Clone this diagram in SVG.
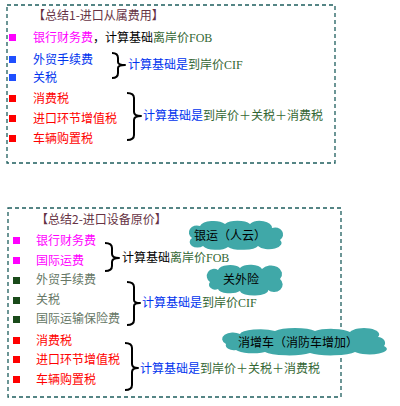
<svg xmlns="http://www.w3.org/2000/svg" width="400" height="406" viewBox="0 0 400 406">
<style>
text{font-family:"Noto Sans CJK SC","Noto Sans",sans-serif;font-size:12px}
.title{fill:#663344}
.mag{fill:#FF00FF}
.blue{fill:#0033EE}
.red{fill:#FF0000}
.blk{fill:#000000}
.grn{fill:#336633;font-family:"Liberation Serif","Noto Sans CJK SC",serif}
.gry{fill:#667766}
.frame{fill:none;stroke:#1E5E5E;stroke-width:1.3;stroke-dasharray:4 3}
.brace{fill:none;stroke:#000;stroke-width:2;stroke-linejoin:round}
.cloud{fill:#40A8A8}
.sq-m{fill:#FF00FF}.sq-b{fill:#1F4FFF}.sq-r{fill:#FF0000}.sq-g{fill:#1A4A1A}
</style>

<g id="box1">
<rect class="frame" x="7" y="5" width="328" height="158"/>
<text class="title" x="33" y="20">【总结1-进口从属费用】</text>
</g>
<g id="b1-row1">
<rect class="sq-m" x="9" y="34" width="7" height="7"/>
<text x="33" y="42"><tspan class="mag">银行财务费</tspan><tspan class="blk">，计算基础</tspan><tspan class="grn">离岸价FOB</tspan></text>
</g>
<g id="b1-row2">
<rect class="sq-b" x="9" y="56" width="7" height="7"/>
<text class="blue" x="33" y="64">外贸手续费</text>
</g>
<g id="b1-row3">
<rect class="sq-b" x="9" y="74" width="7" height="7"/>
<text class="blue" x="33" y="82">关税</text>
</g>
<g id="b1-row4">
<rect class="sq-r" x="9" y="95" width="7" height="7"/>
<text class="red" x="33" y="103">消费税</text>
</g>
<g id="b1-row5">
<rect class="sq-r" x="9" y="115" width="7" height="7"/>
<text class="red" x="33" y="123">进口环节增值税</text>
</g>
<g id="b1-row6">
<rect class="sq-r" x="9" y="135" width="7" height="7"/>
<text class="red" x="33" y="143">车辆购置税</text>
</g>
<g id="b1-label1">
<text x="128" y="69"><tspan class="blue">计算基础是</tspan><tspan class="grn">到岸价CIF</tspan></text>
</g>
<g id="b1-label2">
<text x="143" y="120"><tspan class="blue">计算基础是</tspan><tspan class="grn">到岸价＋关税＋消费税</tspan></text>
</g>

<g id="box2">
<rect class="frame" x="8" y="208" width="333" height="189"/>
<text class="title" x="36" y="224">【总结2-进口设备原价】</text>
</g>
<g id="b2-row1">
<rect class="sq-m" x="13" y="237" width="7" height="7"/>
<text class="mag" x="36" y="245">银行财务费</text>
</g>
<g id="b2-row2">
<rect class="sq-m" x="13" y="257" width="7" height="7"/>
<text class="mag" x="36" y="265">国际运费</text>
</g>
<g id="b2-row3">
<rect class="sq-g" x="13" y="277" width="7" height="7"/>
<text class="gry" x="36" y="284">外贸手续费</text>
</g>
<g id="b2-row4">
<rect class="sq-g" x="13" y="297" width="7" height="7"/>
<text class="gry" x="36" y="304">关税</text>
</g>
<g id="b2-row5">
<rect class="sq-g" x="13" y="316" width="7" height="7"/>
<text class="gry" x="36" y="323">国际运输保险费</text>
</g>
<g id="b2-row6">
<rect class="sq-r" x="13" y="337" width="7" height="7"/>
<text class="red" x="36" y="345">消费税</text>
</g>
<g id="b2-row7">
<rect class="sq-r" x="13" y="356" width="7" height="7"/>
<text class="red" x="36" y="364">进口环节增值税</text>
</g>
<g id="b2-row8">
<rect class="sq-r" x="13" y="376" width="7" height="7"/>
<text class="red" x="36" y="384">车辆购置税</text>
</g>
<g id="b2-label1">
<text x="122" y="262"><tspan class="blk">计算基础</tspan><tspan class="grn">离岸价FOB</tspan></text>
</g>
<g id="b2-label2">
<text x="142" y="307"><tspan class="blue">计算基础是</tspan><tspan class="grn">到岸价CIF</tspan></text>
</g>
<g id="b2-label3">
<text x="140" y="373"><tspan class="blue">计算基础是</tspan><tspan class="grn">到岸价＋关税＋消费税</tspan></text>
</g>

<g id="connectors">
<path class="brace" d="M112,53 Q118,53 118,58 V62 Q118,65 125,65 Q118,65 118,68 V73 Q118,78 112,78"/>
<path class="brace" d="M127,93 Q134,93 134,98 V112 Q134,116 141,116 Q134,116 134,120 V135 Q134,140 127,140"/>
<path class="brace" d="M105,243 Q112,243 112,248 V254 Q112,258 119,258 Q112,258 112,262 V266 Q112,271 105,271"/>
<path class="brace" d="M127,282 Q134,282 134,287 V300 Q134,303 140,303 Q134,303 134,306 V320 Q134,325 127,325"/>
<path class="brace" d="M125,343 Q132,343 132,348 V364 Q132,368 138,368 Q132,368 132,372 V385 Q132,390 125,390"/>
</g>

<g id="cloud1">
<path class="cloud" d="M192,238 A8,7 0 0 1 200,226 A14,7 0 0 1 225,224 A14,6 0 0 1 250,224 A12,7 0 0 1 272,228 A8,7 0 0 1 280,240 A12,6 0 0 1 258,246 A16,5 0 0 1 228,247 A14,6 0 0 1 203,246 A7,5 0 0 1 192,238 Z"/>
<text class="blk" x="230" y="240" text-anchor="middle">银运（人云）</text>
</g>
<g id="cloud2">
<path class="cloud" d="M210,282 A7,7 0 0 1 218,270 A12,6 0 0 1 240,268 A12,6 0 0 1 262,269 A9,7 0 0 1 280,279 A8,7 0 0 1 268,290 A14,5 0 0 1 240,291 A12,5 0 0 1 218,289 A6,5 0 0 1 210,282 Z"/>
<text class="blk" x="241" y="284" text-anchor="middle">关外险</text>
</g>
<g id="cloud3">
<path class="cloud" d="M226,344 A10,6 0 0 1 240,334 A20,5 0 0 1 275,331 A22,5 0 0 1 315,331 A20,5 0 0 1 350,332 A14,6 0 0 1 378,337 A8,6 0 0 1 384,346 A16,5 0 0 1 355,352 A25,5 0 0 1 310,353 A25,5 0 0 1 265,352 A18,5 0 0 1 236,350 A8,5 0 0 1 226,344 Z"/>
<text class="blk" x="298" y="347" text-anchor="middle">消增车（消防车增加）</text>
</g>
</svg>
